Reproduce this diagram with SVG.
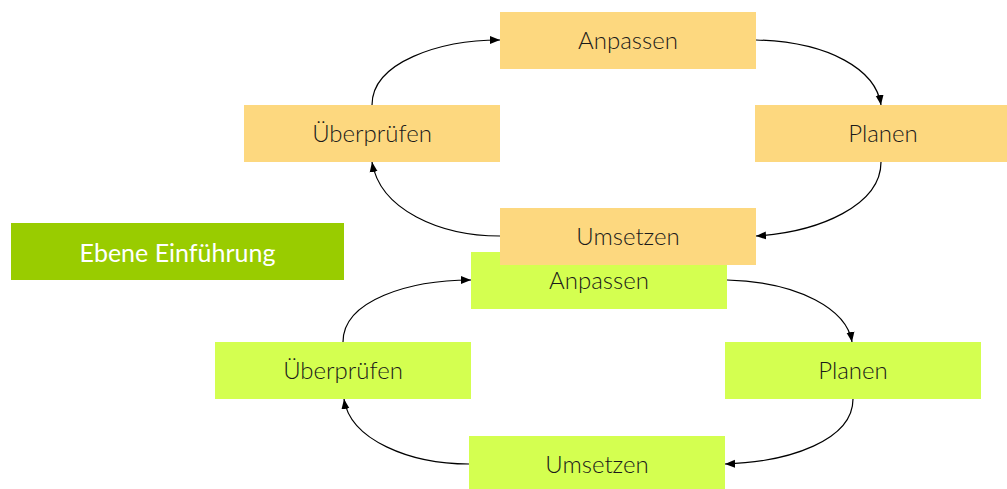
<svg xmlns="http://www.w3.org/2000/svg" width="1007" height="489" viewBox="0 0 1007 489">
<style>
.o{fill:#FDD87F}
.g{fill:#D4FF50}
.t{font-family:Lato,"Open Sans","Liberation Sans",sans-serif;font-weight:300;font-size:24px;fill:#1a1a1a;text-anchor:middle}
.h{font-family:Lato,"Open Sans","Liberation Sans",sans-serif;font-weight:400;font-size:25px;fill:#ffffff;text-anchor:middle}
.c{fill:none;stroke:#000;stroke-width:1.2;marker-end:url(#a)}
</style>
<defs>
<marker id="a" markerUnits="userSpaceOnUse" markerWidth="10" markerHeight="10" viewBox="0 0 10 8" refX="10" refY="4" orient="auto">
<path d="M0,0 L10,4 L0,8 Z" fill="#000"/>
</marker>
</defs>
<rect width="1007" height="489" fill="#fff"/>
<g id="connectors">
<path class="c" d="M372,105 C372,62 440,40 500,40"/>
<path class="c" d="M756,40 C830,42 876,70 881,105"/>
<path class="c" d="M881,162 C881,205 820,232 756,236"/>
<path class="c" d="M500,236 C440,236 380,210 372,162"/>
<path class="c" d="M343,342 C343,300 410,280 471,280"/>
<path class="c" d="M727,280 C800,282 847,310 852,342"/>
<path class="c" d="M853,399 C853,440 790,462 725,464"/>
<path class="c" d="M469,464 C410,464 350,440 344,399"/>
</g>
<g id="ebene">
<rect x="11" y="223" width="333" height="57" fill="#99CC00"/>
<text class="h" x="177.5" y="261.5">Ebene Einführung</text>
</g>
<g id="b-anpassen">
<rect class="g" x="471" y="252" width="256" height="57"/>
<text class="t" x="599" y="289.3">Anpassen</text>
</g>
<g id="b-ueberpruefen">
<rect class="g" x="215" y="342" width="256" height="57"/>
<text class="t" x="343" y="379.3">Überprüfen</text>
</g>
<g id="b-planen">
<rect class="g" x="725" y="342" width="256" height="57"/>
<text class="t" x="853" y="379.3">Planen</text>
</g>
<g id="b-umsetzen">
<rect class="g" x="469" y="436" width="256" height="57"/>
<text class="t" x="597" y="473.3">Umsetzen</text>
</g>
<g id="t-anpassen">
<rect class="o" x="500" y="12" width="256" height="57"/>
<text class="t" x="628" y="49.3">Anpassen</text>
</g>
<g id="t-ueberpruefen">
<rect class="o" x="244" y="105" width="256" height="57"/>
<text class="t" x="372" y="142.3">Überprüfen</text>
</g>
<g id="t-planen">
<rect class="o" x="755" y="105" width="252" height="57"/>
<text class="t" x="883" y="142.3">Planen</text>
</g>
<g id="t-umsetzen">
<rect class="o" x="500" y="208" width="256" height="57"/>
<text class="t" x="628" y="245.3">Umsetzen</text>
</g>
</svg>
